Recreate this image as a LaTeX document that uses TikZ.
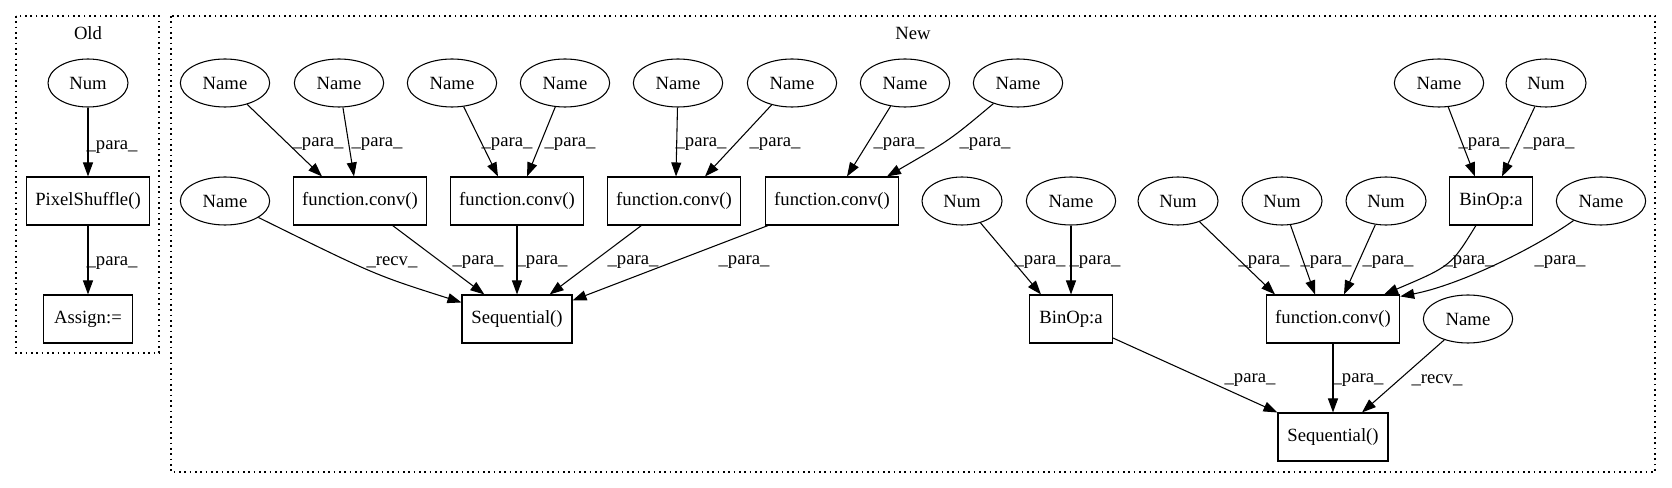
\documentclass[tikz,border=0pt]{standalone}
\usepackage{fontspec}
\setmainfont{Liberation Serif}
\usetikzlibrary{shapes.geometric,arrows.meta,calc}
\tikzset{
  ell/.style={draw, ellipse, minimum height=36pt, inner sep=0pt, line width=0.8pt, font=\fontsize{14pt}{16pt}\selectfont},
  namen/.style={ell, minimum width=67pt},
  numn/.style={ell, minimum width=60pt},
  box/.style={draw, rectangle, minimum height=36pt, inner sep=0pt, line width=0.8pt, font=\fontsize{14pt}{16pt}\selectfont},
  fcbox/.style={box, minimum width=100pt},
  seqbox/.style={box, minimum width=82.5pt},
  binbox/.style={box, minimum width=62pt},
  conn/.style={-{Triangle[length=10.5pt,width=7.5pt]}, line width=0.8pt},
  lbl/.style={inner sep=0pt, font=\fontsize{14pt}{16pt}\selectfont},
  cluster/.style={line width=1pt, dash pattern=on 1.2pt off 2.8pt},
}
\begin{document}
\begin{tikzpicture}[x=0.75pt,y=-0.75pt]
\useasboundingbox (0,0) rectangle (1672,488);
% clusters
\draw[cluster] (16,16) rectangle (159,353);
\draw[cluster] (171,16) rectangle (1655,472);
\node[lbl] (oldlbl) at (88,33) {Old};
\node[lbl] (newlbl) at (913,33) {New};

% Old
\node[numn] (onum) at (88,83) {Num};
\node[box, minimum width=92pt] (ps) at (88,201) {PixelShuffle()};
\node[box, minimum width=67pt] (as) at (88,319) {Assign:=};
\draw[conn] (onum) -- (ps);
\draw[conn] (ps) -- (as);
\node[lbl] (lo1) at (112,147) {\_para\_};
\node[lbl] (lo2) at (112,263) {\_para\_};

% New row 1
\node[namen] (n1) at (225,83) {Name};
\node[namen] (n2) at (339,83) {Name};
\node[namen] (n3) at (452,83) {Name};
\node[namen] (n4) at (565,83) {Name};
\node[namen] (n5) at (678,83) {Name};
\node[namen] (n6) at (792,83) {Name};
\node[namen] (n7) at (905,83) {Name};
\node[namen] (n8) at (1018,83) {Name};
\node[namen] (n9) at (1439,83) {Name};
\node[numn] (n10) at (1546,83) {Num};

% row 2
\node[namen] (r1) at (225,201) {Name};
\node[fcbox] (fc1) at (360,201) {function.conv()};
\node[fcbox] (fc2) at (517,201) {function.conv()};
\node[fcbox] (fc3) at (674,201) {function.conv()};
\node[fcbox] (fc4) at (832,201) {function.conv()};
\node[numn] (num1) at (962,201) {Num};
\node[namen] (nm2) at (1071,201) {Name};
\node[numn] (num2) at (1178,201) {Num};
\node[numn] (num3) at (1282,201) {Num};
\node[numn] (num4) at (1386,201) {Num};
\node[binbox] (bo2) at (1491,201) {BinOp:a};
\node[namen] (nm3) at (1601,201) {Name};

% row 3
\node[seqbox] (seq1) at (517,319) {Sequential()};
\node[binbox] (bo1) at (1071,319) {BinOp:a};
\node[fcbox] (fc5) at (1333,319) {function.conv()};
\node[namen] (nm4) at (1468,319) {Name};

% row 4
\node[seqbox] (seq2) at (1333,437) {Sequential()};

% edges row1 -> row2
\draw[conn] (n1) -- ($(fc1.north)+(-38,0)$);
\draw[conn] (n2) -- ($(fc1.north)+(-6,0)$);
\draw[conn] (n3) -- ($(fc2.north)+(-19,0)$);
\draw[conn] (n4) -- ($(fc2.north)+(10,0)$);
\draw[conn] (n5) -- ($(fc3.north)+(2,0)$);
\draw[conn] (n6) -- ($(fc3.north)+(31,0)$);
\draw[conn] (n7) -- ($(fc4.north)+(15,0)$);
\draw[conn] (n8) .. controls (950,140) .. ($(fc4.north)+(55,0)$);
\draw[conn] (n9) -- ($(bo2.north)+(-16,0)$);
\draw[conn] (n10) -- ($(bo2.north)+(11,0)$);
\node[lbl] (l1) at (318,144) {\_para\_};
\node[lbl] (l2) at (377,144) {\_para\_};
\node[lbl] (l3) at (507,144) {\_para\_};
\node[lbl] (l4) at (570,144) {\_para\_};
\node[lbl] (l5) at (701,144) {\_para\_};
\node[lbl] (l6) at (775,144) {\_para\_};
\node[lbl] (l7) at (899,144) {\_para\_};
\node[lbl] (l8) at (985,144) {\_para\_};
\node[lbl] (l9) at (1484,144) {\_para\_};
\node[lbl] (l10) at (1549,144) {\_para\_};

% edges row2 -> row3
\draw[conn] (r1) .. controls (375,275) .. ($(seq1.north west)+(0,8)$);
\draw[conn] (fc1) -- (seq1);
\draw[conn] (fc2) -- (seq1);
\draw[conn] (fc3) -- (seq1);
\draw[conn] (fc4) -- ($(seq1.north east)+(0,6)$);
\draw[conn] (num1) -- ($(bo1.north)+(-30,0)$);
\draw[conn] (nm2) -- (bo1);
\draw[conn] (num2) -- ($(fc5.north)+(-58,0)$);
\draw[conn] (num3) -- ($(fc5.north)+(-18,0)$);
\draw[conn] (num4) -- ($(fc5.north)+(11,0)$);
\draw[conn] (bo2) .. controls (1451,266) .. ($(fc5.north)+(51,0)$);
\draw[conn] (nm3) .. controls (1535,248) and (1460,285) .. ($(fc5.north east)+(0,2)$);
\node[lbl] (m1) at (392,262) {\_recv\_};
\node[lbl] (m2) at (478,262) {\_para\_};
\node[lbl] (m3) at (542,262) {\_para\_};
\node[lbl] (m4) at (633,262) {\_para\_};
\node[lbl] (m5) at (744,262) {\_para\_};
\node[lbl] (m6) at (1040,262) {\_para\_};
\node[lbl] (m7) at (1095,262) {\_para\_};
\node[lbl] (m8) at (1264,262) {\_para\_};
\node[lbl] (m9) at (1326,262) {\_para\_};
\node[lbl] (m10) at (1388,262) {\_para\_};
\node[lbl] (m11) at (1469,262) {\_para\_};
\node[lbl] (m12) at (1560,262) {\_para\_};

% edges row3 -> row4
\draw[conn] (bo1) -- (seq2.north west);
\draw[conn] (fc5) -- (seq2);
\draw[conn] (nm4) -- ($(seq2.north)+(29,0)$);
\node[lbl] (b1) at (1250,380) {\_para\_};
\node[lbl] (b2) at (1358,380) {\_para\_};
\node[lbl] (b3) at (1437,380) {\_recv\_};
\end{tikzpicture}
\end{document}
